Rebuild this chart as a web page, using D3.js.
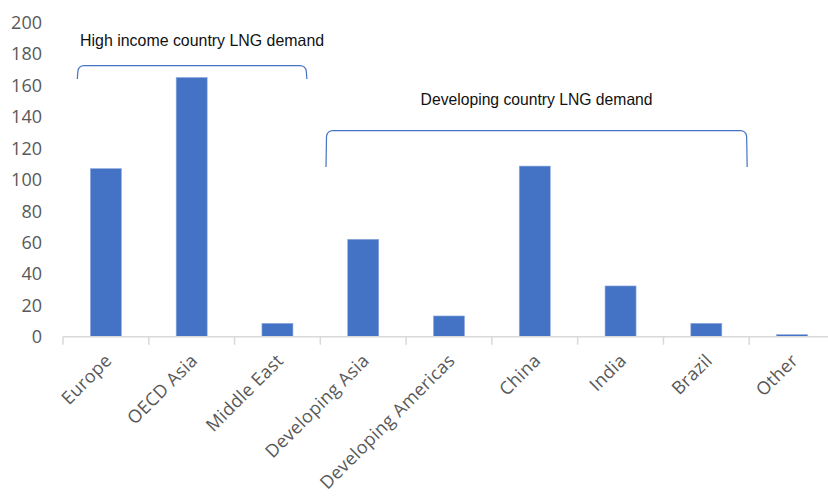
<!DOCTYPE html>
<html>
<head>
<meta charset="utf-8">
<script src="https://cdn.jsdelivr.net/npm/d3@7"></script>
<style>
  html, body { margin: 0; padding: 0; background: #fff; }
  svg { display: block; }
</style>
</head>
<body>
<svg id="chart" width="828" height="497"></svg>
<script>
// LNG demand by region
const categories = ["Europe", "OECD Asia", "Middle East", "Developing Asia",
  "Developing Americas", "China", "India", "Brazil", "Other"];
const demand = [107, 165, 8.5, 62, 13.2, 108.6, 32.3, 8.5, 1.3];
const yTicks = [0, 20, 40, 60, 80, 100, 120, 140, 160, 180, 200];

// Bracketed groups over the bars
const groupLabels = ["High income country LNG demand", "Developing country LNG demand"];
const groupFirst = ["Europe", "Developing Asia"];
const groupLast = ["Middle East", "Brazil"];

const svg = d3.select("#chart");
const blue = "#4472C4";
const grey = "#595959";

const x = d3.scaleBand().domain(categories).range([63, 835]).paddingInner(0).paddingOuter(0);
const y = d3.scaleLinear().domain([0, 200]).range([336.7, 22.5]);

// Value labels on the left (no axis line)
svg.append("g").selectAll("text").data(yTicks).join("text")
  .attr("x", 42).attr("y", d => y(d)).attr("dy", "0.36em")
  .attr("text-anchor", "end")
  .attr("font-family", "Open Sans, sans-serif").attr("font-size", 18)
  .attr("fill", grey).text(d => d);

// Bars
const barW = 31;
svg.append("g").selectAll("rect").data(categories).join("rect")
  .attr("x", d => x(d) + x.bandwidth() / 2 - barW / 2)
  .attr("y", (d, i) => y(demand[i]))
  .attr("width", barW)
  .attr("height", (d, i) => y(0) - y(demand[i]))
  .attr("fill", blue)
  .attr("stroke", "#8fabdc").attr("stroke-width", 0.6);

// Category axis line and tick marks between categories
const axisG = svg.append("g");
axisG.append("line")
  .attr("x1", 63).attr("x2", 828).attr("y1", y(0)).attr("y2", y(0))
  .attr("stroke", "#d9d9d9").attr("stroke-width", 1.5);
const boundaries = categories.map(c => x(c)).concat([x(categories[categories.length - 1]) + x.step()]);
axisG.selectAll("line.tick").data(boundaries).join("line")
  .attr("class", "tick")
  .attr("x1", d => d).attr("x2", d => d)
  .attr("y1", y(0)).attr("y2", y(0) + 8)
  .attr("stroke", "#d9d9d9").attr("stroke-width", 1.5);

// Rotated category labels
svg.append("g").selectAll("text").data(categories).join("text")
  .attr("transform", d => `translate(${x(d) + x.bandwidth() / 2 + 7},${y(0) + 25}) rotate(-45)`)
  .attr("text-anchor", "end")
  .attr("font-family", "Open Sans, sans-serif").attr("font-size", 18)
  .attr("letter-spacing", 0.3)
  .attr("fill", grey).text(d => d);

// Group brackets and their titles
const leftOffset = [0.167, 0.066];
const rightOffset = [0.843, 0.976];
const bracketTop = [65.7, 130.7];
const bracketBottom = [79, 167];
const titleBaseline = [46, 105];

groupLabels.forEach((label, i) => {
  const x0 = x(groupFirst[i]) + leftOffset[i] * x.step();
  const x1 = x(groupLast[i]) + rightOffset[i] * x.step();
  const yt = bracketTop[i], yb = bracketBottom[i];
  const p = d3.path();
  p.moveTo(x0, yb);
  p.lineTo(x0 + 0.5, yt + 6);
  p.quadraticCurveTo(x0 + 1.2, yt, x0 + 7, yt);
  p.lineTo(x1 - 7, yt);
  p.quadraticCurveTo(x1 - 1.2, yt, x1 - 0.5, yt + 6);
  p.lineTo(x1, yb);
  svg.append("path").attr("d", p.toString())
    .attr("fill", "none").attr("stroke", blue).attr("stroke-width", 1.2);
  svg.append("text")
    .attr("x", (x0 + x1) / 2 + (i === 0 ? 10 : 0))
    .attr("y", titleBaseline[i])
    .attr("text-anchor", "middle")
    .attr("font-family", "Liberation Sans, Arial, sans-serif")
    .attr("font-size", 16.5)
    .attr("textLength", i === 0 ? 244 : 232)
    .attr("lengthAdjust", "spacingAndGlyphs")
    .attr("fill", "#111").text(label);
});
</script>
</body>
</html>
